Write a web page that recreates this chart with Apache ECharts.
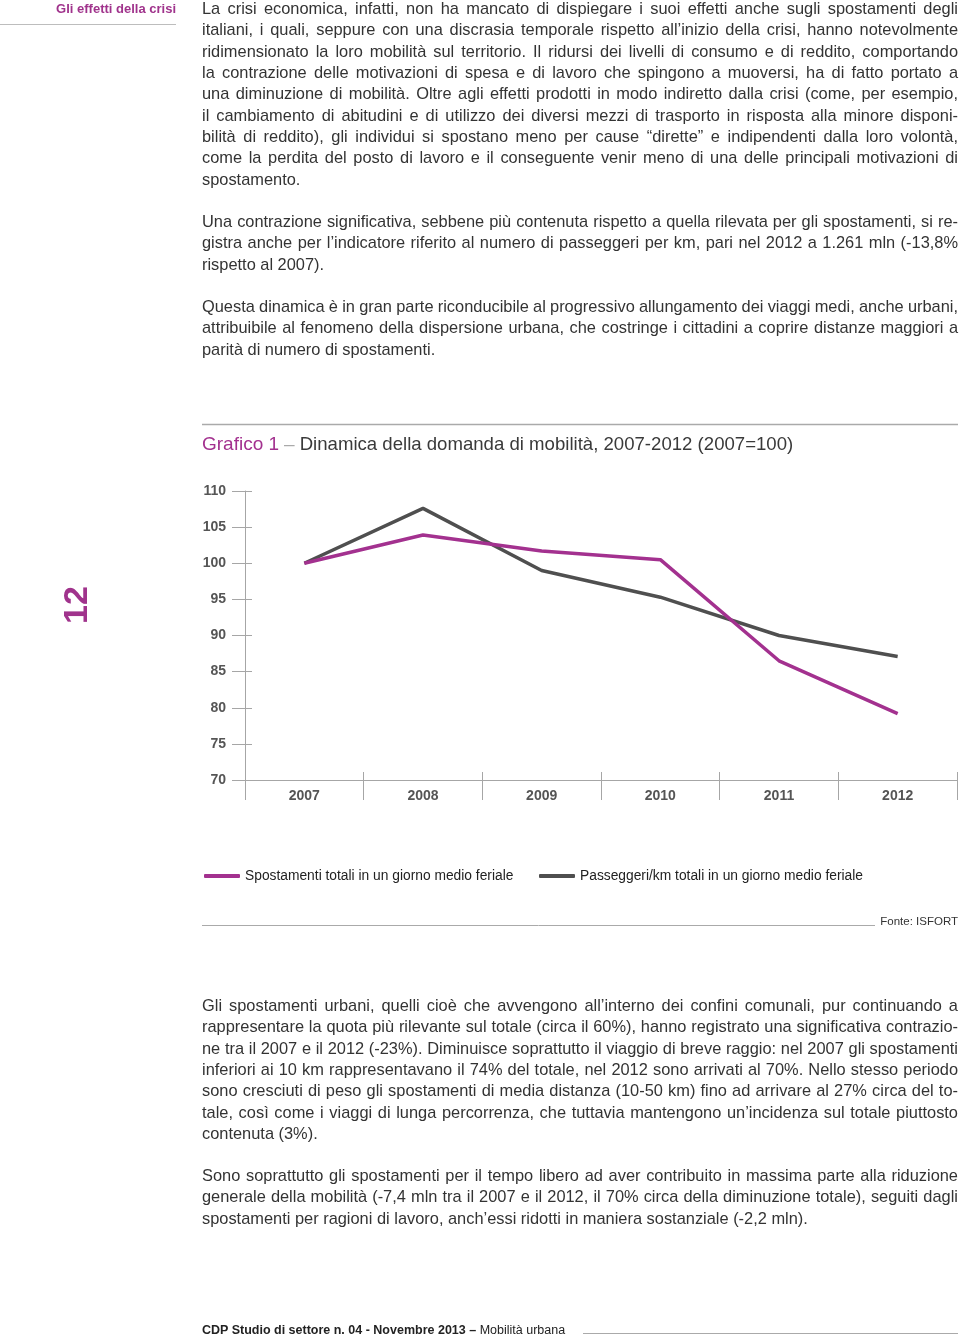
<!DOCTYPE html>
<html><head><meta charset="utf-8">
<script src="https://cdn.jsdelivr.net/npm/echarts@6/dist/echarts.min.js"></script>
<style>
html,body{margin:0;padding:0;background:#fff;}
body{width:960px;height:1336px;position:relative;overflow:hidden;font-family:"Liberation Sans",Arial,sans-serif;}
#chart{position:absolute;left:0;top:0;width:960px;height:1336px;}
.ln{position:absolute;left:202px;width:756px;white-space:nowrap;font-size:16.4px;line-height:21px;color:#333;}
#hdr{position:absolute;right:784px;top:1px;font-size:13px;font-weight:bold;color:#a0338c;white-space:nowrap;}
#hdrline{position:absolute;left:0;top:24px;width:176px;height:1px;background:#bdbdbd;}
#pg{position:absolute;left:50px;top:585px;width:50px;height:40px;font-size:34px;font-weight:bold;color:#a0338c;transform:rotate(-90deg);text-align:center;line-height:40px;}
#foot{position:absolute;left:202px;top:1323px;font-size:12.5px;color:#222;white-space:nowrap;}
#footline{position:absolute;left:583px;top:1333px;width:375px;height:1px;background:#aaa;}
</style></head>
<body>
<div id="chart"></div>
<div id="hdr">Gli effetti della crisi</div>
<div id="hdrline"></div>
<div id="pg">12</div>
<div id="text"></div>
<div id="foot"><b>CDP Studio di settore n. 04 - Novembre 2013 –</b> Mobilità urbana</div>
<div id="footline"></div>
<script>
// ---- data ----
const years = ['2007', '2008', '2009', '2010', '2011', '2012'];
const spostamenti = [100, 103.9, 101.7, 100.5, 86.5, 79.2];
const passeggeriKm = [100, 107.6, 99.0, 95.3, 90.0, 87.1];
const seriesNames = ['Spostamenti totali in un giorno medio feriale', 'Passeggeri/km totali in un giorno medio feriale'];
const yMin = 70, yMax = 110, yStep = 5;
const chartTitleA = 'Grafico 1';
const chartTitleB = 'Dinamica della domanda di mobilità, 2007-2012 (2007=100)';
const sourceText = 'Fonte: ISFORT';

const p1Lines = [
 'La crisi economica, infatti, non ha mancato di dispiegare i suoi effetti anche sugli spostamenti degli',
 'italiani, i quali, seppure con una discrasia temporale rispetto all’inizio della crisi, hanno notevolmente',
 'ridimensionato la loro mobilità sul territorio. Il ridursi dei livelli di consumo e di reddito, comportando',
 'la contrazione delle motivazioni di spesa e di lavoro che spingono a muoversi, ha di fatto portato a',
 'una diminuzione di mobilità. Oltre agli effetti prodotti in modo indiretto dalla crisi (come, per esempio,',
 'il cambiamento di abitudini e di utilizzo dei diversi mezzi di trasporto in risposta alla minore disponi-',
 'bilità di reddito), gli individui si spostano meno per cause “dirette” e indipendenti dalla loro volontà,',
 'come la perdita del posto di lavoro e il conseguente venir meno di una delle principali motivazioni di',
 'spostamento.'
];
const p2Lines = [
 'Una contrazione significativa, sebbene più contenuta rispetto a quella rilevata per gli spostamenti, si re-',
 'gistra anche per l’indicatore riferito al numero di passeggeri per km, pari nel 2012 a 1.261 mln (-13,8%',
 'rispetto al 2007).'
];
const p3Lines = [
 'Questa dinamica è in gran parte riconducibile al progressivo allungamento dei viaggi medi, anche urbani,',
 'attribuibile al fenomeno della dispersione urbana, che costringe i cittadini a coprire distanze maggiori a',
 'parità di numero di spostamenti.'
];
const p4Lines = [
 'Gli spostamenti urbani, quelli cioè che avvengono all’interno dei confini comunali, pur continuando a',
 'rappresentare la quota più rilevante sul totale (circa il 60%), hanno registrato una significativa contrazio-',
 'ne tra il 2007 e il 2012 (-23%). Diminuisce soprattutto il viaggio di breve raggio: nel 2007 gli spostamenti',
 'inferiori ai 10 km rappresentavano il 74% del totale, nel 2012 sono arrivati al 70%. Nello stesso periodo',
 'sono cresciuti di peso gli spostamenti di media distanza (10-50 km) fino ad arrivare al 27% circa del to-',
 'tale, così come i viaggi di lunga percorrenza, che tuttavia mantengono un’incidenza sul totale piuttosto',
 'contenuta (3%).'
];
const p5Lines = [
 'Sono soprattutto gli spostamenti per il tempo libero ad aver contribuito in massima parte alla riduzione',
 'generale della mobilità (-7,4 mln tra il 2007 e il 2012, il 70% circa della diminuzione totale), seguiti dagli',
 'spostamenti per ragioni di lavoro, anch’essi ridotti in maniera sostanziale (-2,2 mln).'
];

// ---- text layout ----
const paragraphs = [[p1Lines, 9], [p2Lines, 222], [p3Lines, 307], [p4Lines, 1006], [p5Lines, 1176]];
const pitch = 21.35, W = 756;
const host = document.getElementById('text');
paragraphs.forEach(([lines, y0]) => {
  lines.forEach((t, i) => {
    const d = document.createElement('div');
    d.className = 'ln';
    d.style.top = (y0 + i * pitch - 11) + 'px';
    const s = document.createElement('span');
    s.textContent = t;
    d.appendChild(s);
    host.appendChild(d);
    const nat = s.getBoundingClientRect().width;
    const spaces = (t.match(/ /g) || []).length;
    const last = i === lines.length - 1;
    if ((!last || nat > W) && spaces) {
      d.style.wordSpacing = ((W - nat) / spaces) + 'px';
    }
  });
});

// ---- chart ----
const MAG = '#a3318f', GREY = '#4f4f4f', AX = '#a6a6a6';
const chart = echarts.init(document.getElementById('chart'), null, {renderer: 'canvas'});
chart.setOption({
  animation: false,
  title: {
    left: 202, top: 435, padding: 0,
    text: '{a|' + chartTitleA + '} {c|–} {b|' + chartTitleB + '}',
    textStyle: {
      fontWeight: 'normal',
      rich: {
        a: {fontSize: 19, color: MAG, fontFamily: 'Liberation Sans', fontWeight: 'normal'},
        c: {fontSize: 19, color: '#aaa', fontFamily: 'Liberation Sans', fontWeight: 'normal'},
        b: {fontSize: 18.6, color: '#3a3a3a', fontFamily: 'Liberation Sans', fontWeight: 'normal'}
      }
    }
  },
  legend: [
    {left: 204, top: 869, padding: 0, data: [seriesNames[0]], icon: 'roundRect', itemWidth: 36, itemHeight: 4, itemGap: 8,
     textStyle: {fontSize: 13.8, color: '#222', fontFamily: 'Liberation Sans'}},
    {left: 539, top: 869, padding: 0, data: [seriesNames[1]], icon: 'roundRect', itemWidth: 36, itemHeight: 4, itemGap: 8,
     textStyle: {fontSize: 13.8, color: '#222', fontFamily: 'Liberation Sans'}}
  ],
  grid: {left: 245, right: 3, top: 491, bottom: 556, containLabel: false},
  xAxis: [
    {type: 'category', data: years, boundaryGap: true, position: 'bottom',
     axisLine: {show: true, lineStyle: {color: AX, width: 1}},
     axisTick: {show: true, length: 20, lineStyle: {color: AX}},
     axisLabel: {margin: 9, fontSize: 14, fontWeight: 'bold', color: '#555', fontFamily: 'Liberation Sans'},
     splitLine: {show: false}},
    {type: 'category', data: years, boundaryGap: true, position: 'bottom', offset: 0,
     axisLine: {show: false},
     axisTick: {show: true, inside: true, length: 8, lineStyle: {color: AX}},
     axisLabel: {show: false}, splitLine: {show: false}}
  ],
  yAxis: [
    {type: 'value', min: yMin, max: yMax, interval: yStep, position: 'left',
     axisLine: {show: true, lineStyle: {color: AX, width: 1}},
     axisTick: {show: true, length: 13, lineStyle: {color: AX}},
     axisLabel: {margin: 19, fontSize: 14, fontWeight: 'bold', color: '#555', fontFamily: 'Liberation Sans'},
     splitLine: {show: false}},
    {type: 'value', min: yMin, max: yMax, interval: yStep, position: 'left', offset: 0,
     axisLine: {show: false},
     axisTick: {show: true, inside: true, length: 7, lineStyle: {color: AX}},
     axisLabel: {show: false}, splitLine: {show: false}}
  ],
  series: [
    {name: seriesNames[0], type: 'line', data: spostamenti, symbol: 'none', lineStyle: {color: MAG, width: 3.5}, itemStyle: {color: MAG}, z: 3},
    {name: seriesNames[1], type: 'line', data: passeggeriKm, symbol: 'none', lineStyle: {color: GREY, width: 3.5}, itemStyle: {color: GREY}, z: 2}
  ],
  graphic: [
    {type: 'line', shape: {x1: 202, y1: 424.5, x2: 958, y2: 424.5}, style: {stroke: '#aaa', lineWidth: 1.5}},
    {type: 'line', shape: {x1: 202, y1: 925.5, x2: 875, y2: 925.5}, style: {stroke: '#aaa', lineWidth: 1}},
    {type: 'text', right: 2, top: 916, style: {text: sourceText, fontSize: 11.5, fill: '#333', fontFamily: 'Liberation Sans'}}
  ]
});
</script>
</body></html>
